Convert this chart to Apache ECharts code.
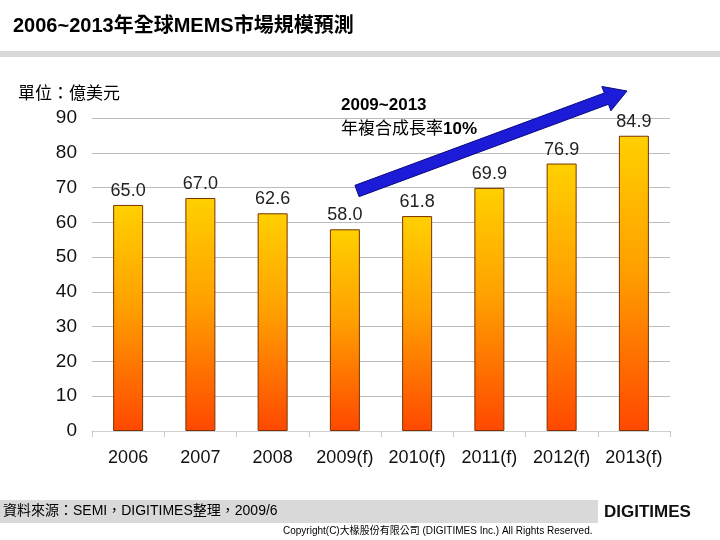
<!DOCTYPE html>
<html>
<head>
<meta charset="utf-8">
<script src="https://cdn.jsdelivr.net/npm/echarts@6/dist/echarts.min.js"></script>
<style>
html,body{margin:0;padding:0;background:#fff;}
#c{width:720px;height:540px;}
</style>
</head>
<body>
<div id="c"></div>
<script>
const categories = ['2006','2007','2008','2009(f)','2010(f)','2011(f)','2012(f)','2013(f)'];
const marketValues = [65.0, 67.0, 62.6, 58.0, 61.8, 69.9, 76.9, 84.9];
const yTicks = [0,10,20,30,40,50,60,70,80,90];

const FONT = '"Liberation Sans", Arial, "Noto Sans CJK TC", sans-serif';
const chart = echarts.init(document.getElementById('c'), null, {renderer:'canvas'});

// arrow polygon (annotation)
function arrowPoints(x1,y1,x2,y2,hw,headLen,headHw){
  const dx=x2-x1, dy=y2-y1, L=Math.sqrt(dx*dx+dy*dy);
  const ux=dx/L, uy=dy/L, nx=-uy, ny=ux;
  const bx=x2-headLen*ux, by=y2-headLen*uy;
  return [
    [x1+hw*nx,y1+hw*ny],[bx+hw*nx,by+hw*ny],[bx+headHw*nx,by+headHw*ny],
    [x2,y2],
    [bx-headHw*nx,by-headHw*ny],[bx-hw*nx,by-hw*ny],[x1-hw*nx,y1-hw*ny]
  ];
}

chart.setOption({
  backgroundColor:'#fff',
  animation:false,
  grid:{left:92,right:50,top:118,bottom:109,containLabel:false},
  xAxis:{
    type:'category',
    data:categories,
    axisLine:{show:true,lineStyle:{color:'#d0d0d0',width:1}},
    axisTick:{show:true,interval:0,length:6,lineStyle:{color:'#c8c8c8'}},
    axisLabel:{interval:0,hideOverlap:false,color:'#111',fontSize:18,fontFamily:FONT,margin:18}
  },
  yAxis:{
    type:'value',
    min:0,max:90,interval:10,
    axisLine:{show:false},
    axisTick:{show:false},
    axisLabel:{color:'#111',fontSize:19,fontFamily:FONT,margin:15,
      formatter:function(v){return yTicks.indexOf(v)>=0?String(v):'';}},
    splitLine:{show:true,lineStyle:{color:'#bdbdbd',width:1}}
  },
  series:[{
    type:'bar',
    data:marketValues,
    barWidth:30,
    itemStyle:{
      color:new echarts.graphic.LinearGradient(0,0,0,1,[
        {offset:0,color:'#ffd000'},
        {offset:0.45,color:'#ffa000'},
        {offset:1,color:'#ff4800'}
      ]),
      borderColor:'#7a3300',
      borderWidth:1
    },
    label:{
      show:true,position:'top',distance:5,
      color:'#222',fontSize:18,fontFamily:FONT,
      formatter:function(p){return p.value.toFixed(1);}
    }
  }],
  graphic:[
    {type:'text',left:13,top:16,style:{text:'2006~2013年全球MEMS市場規模預測',font:'bold 20px '+FONT,fill:'#000'}},
    {type:'rect',shape:{x:0,y:51,width:720,height:6},style:{fill:'#d9d9d9'}},
    {type:'text',left:18,top:86,style:{text:'單位：億美元',font:'17px '+FONT,fill:'#000'}},
    {type:'text',left:341,top:97,style:{text:'2009~2013',font:'bold 17px '+FONT,fill:'#000'}},
    {type:'text',left:341,top:121,style:{text:'年複合成長率',font:'17px '+FONT,fill:'#000'}},
    {type:'text',left:443,top:121,style:{text:'10%',font:'bold 17px '+FONT,fill:'#000'}},
    {type:'polygon',z:100,shape:{points:arrowPoints(357,191,627,91,6,22,13)},
      style:{fill:'#1c1cd8',stroke:'#0a0a80',lineWidth:1}},
    {type:'rect',shape:{x:0,y:500,width:598,height:23},style:{fill:'#d9d9d9'}},
    {type:'text',left:3,top:504,style:{text:'資料來源：SEMI，DIGITIMES整理，2009/6',font:'14px '+FONT,fill:'#000'}},
    {type:'text',left:283,top:526,style:{text:'Copyright(C)大椽股份有限公司 (DIGITIMES Inc.) All Rights Reserved.',font:'10px '+FONT,fill:'#000'}},
    {type:'text',left:604,top:504,style:{text:'DIGITIMES',font:'900 17px '+FONT,fill:'#111'}}
  ]
});
</script>
</body>
</html>
